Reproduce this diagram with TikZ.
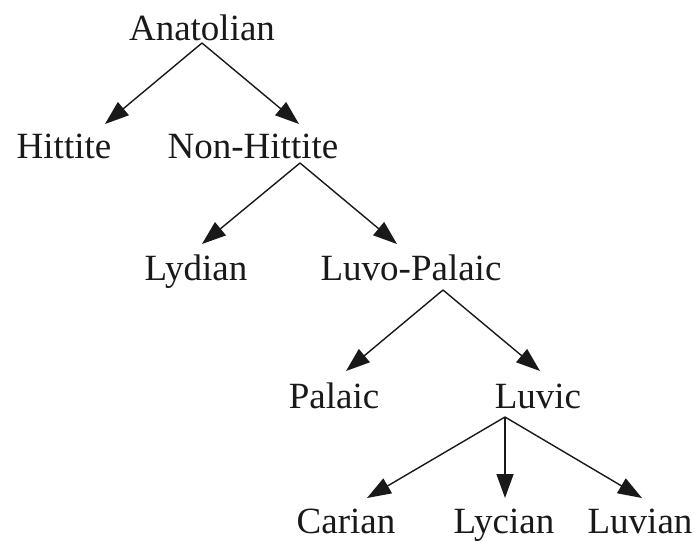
\documentclass[tikz,border=0pt]{standalone}
\usepackage{fontspec}
\setmainfont{Liberation Serif}
\usetikzlibrary{arrows.meta}
\begin{document}
\begin{tikzpicture}[x=1pt,y=-1pt,
  lang/.style={anchor=base,inner sep=0pt,font=\fontsize{37}{44}\selectfont,text=black!90},
  branch/.style={draw=black!90,line width=1.4pt,-{Triangle[length=24pt,width=17pt]}}]
\useasboundingbox (0,0) rectangle (698,541);

% language names (positioned by baseline)
\node[lang] (anat) at (202,40) {Anatolian};
\node[lang] (hitt) at (64,158) {Hittite};
\node[lang] (nonh) at (253,158) {Non-Hittite};
\node[lang] (lyd)  at (196,280) {Lydian};
\node[lang] (lupa) at (411,280) {Luvo-Palaic};
\node[lang] (pal)  at (334,408) {Palaic};
\node[lang] (luvc) at (538,408) {Luvic};
\node[lang] (car)  at (346,533) {Carian};
\node[lang] (lyc)  at (504,533) {Lycian};
\node[lang] (luvn) at (640,533) {Luvian};

% branching points below each parent
\coordinate (anat-out) at (202,43);
\coordinate (nonh-out) at (300,163);
\coordinate (lupa-out) at (443,290);
\coordinate (luvc-out) at (505,417);

% arrow tips above each child
\coordinate (hitt-in) at (105,124);
\coordinate (nonh-in) at (299,124);
\coordinate (lyd-in)  at (202,244);
\coordinate (lupa-in) at (397,244);
\coordinate (pal-in)  at (346,371);
\coordinate (luvc-in) at (540,371);
\coordinate (car-in)  at (367,498);
\coordinate (lyc-in)  at (505,498);
\coordinate (luvn-in) at (642,498);

\draw[branch] (anat-out) -- (hitt-in);
\draw[branch] (anat-out) -- (nonh-in);
\draw[branch] (nonh-out) -- (lyd-in);
\draw[branch] (nonh-out) -- (lupa-in);
\draw[branch] (lupa-out) -- (pal-in);
\draw[branch] (lupa-out) -- (luvc-in);
\draw[branch] (luvc-out) -- (car-in);
\draw[branch] (luvc-out) -- (lyc-in);
\draw[branch] (luvc-out) -- (luvn-in);
\end{tikzpicture}
\end{document}
